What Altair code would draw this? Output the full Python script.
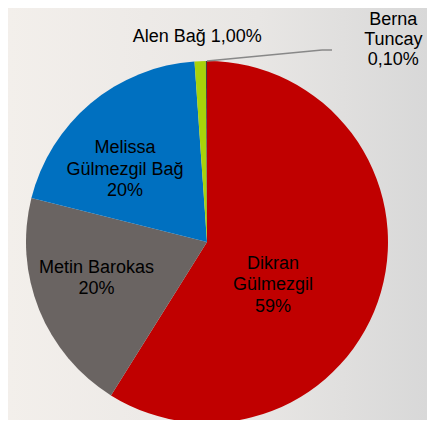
import altair as alt
import pandas as pd

names = ["Dikran Gülmezgil", "Metin Barokas", "Melissa Gülmezgil Bağ", "Alen Bağ", "Berna Tuncay"]
shares = [58.9, 20.0, 20.0, 1.0, 0.1]
labels = ["Dikran\nGülmezgil\n59%", "Metin Barokas\n20%", "Melissa\nGülmezgil Bağ\n20%",
          "Alen Bağ 1,00%", "Berna\nTuncay\n0,10%"]
colors = ["#C00000", "#6A6462", "#0070C0", "#A8D20A", "#404040"]

df = pd.DataFrame({"name": names, "share": shares, "label": labels, "order": list(range(len(names)))})

W, H = 419, 412
CX, CY, R = 199, 234, 181

# label layout: radius, dx, dy, line height (styling only)
layout = {
    "Dikran Gülmezgil": (79, -10, 0, 21.5),
    "Metin Barokas": (117, -2, -18, 21.5),
    "Melissa Gülmezgil Bağ": (109, -12, -10, 21.5),
    "Alen Bağ": (205, -2, 0, 21.5),
    "Berna Tuncay": (208, 187, -14, 20),
}

bg = alt.Chart(alt.Data(values=[{"a": 1}])).mark_rect(
    fill=alt.Gradient(
        gradient="linear",
        stops=[alt.GradientStop(color="#F3EFEB", offset=0),
               alt.GradientStop(color="#E8E6E4", offset=0.6),
               alt.GradientStop(color="#D8D8D8", offset=1)],
        x1=0, x2=1, y1=0, y2=0,
    )
).encode(x=alt.value(0), x2=alt.value(W), y=alt.value(0), y2=alt.value(H))

base = alt.Chart(df)

pie = base.mark_arc(radius=R).encode(
    theta=alt.Theta("share:Q", stack=True),
    color=alt.Color("name:N", scale=alt.Scale(domain=names, range=colors), legend=None),
    order=alt.Order("order:Q"),
    x=alt.value(CX), y=alt.value(CY),
)

leader1 = alt.Chart(alt.Data(values=[{"a": 1}])).mark_rule(color="#888888", strokeWidth=1.5).encode(
    x=alt.value(CX), y=alt.value(CY - R), x2=alt.value(314), y2=alt.value(42))
leader2 = alt.Chart(alt.Data(values=[{"a": 1}])).mark_rule(color="#888888", strokeWidth=1.5).encode(
    x=alt.value(314), y=alt.value(42), x2=alt.value(324), y2=alt.value(42))

text_layers = []
for nm in names:
    r, dx, dy, lh = layout[nm]
    t = base.transform_window(
        cum="sum(share)", sort=[alt.SortField("order")], frame=[None, 0]
    ).transform_calculate(
        mid="datum.cum - datum.share / 2"
    ).transform_filter(
        alt.datum.name == nm
    ).mark_text(
        radius=r, dx=dx, dy=dy, fontSize=18, font="Liberation Sans",
        lineBreak="\n", align="center", baseline="middle", color="#000000", lineHeight=lh,
    ).encode(
        theta=alt.Theta("mid:Q", stack=None),
        text="label:N",
        x=alt.value(CX), y=alt.value(CY),
    )
    text_layers.append(t)

chart = alt.layer(bg, pie, leader1, leader2, *text_layers).properties(
    width=W, height=H, padding=0, autosize=alt.AutoSizeParams(type="none"),
    background="#ECE9E6",
).configure_view(stroke=None)

chart.save("out.html", embed_options={"renderer": "svg", "actions": False})
